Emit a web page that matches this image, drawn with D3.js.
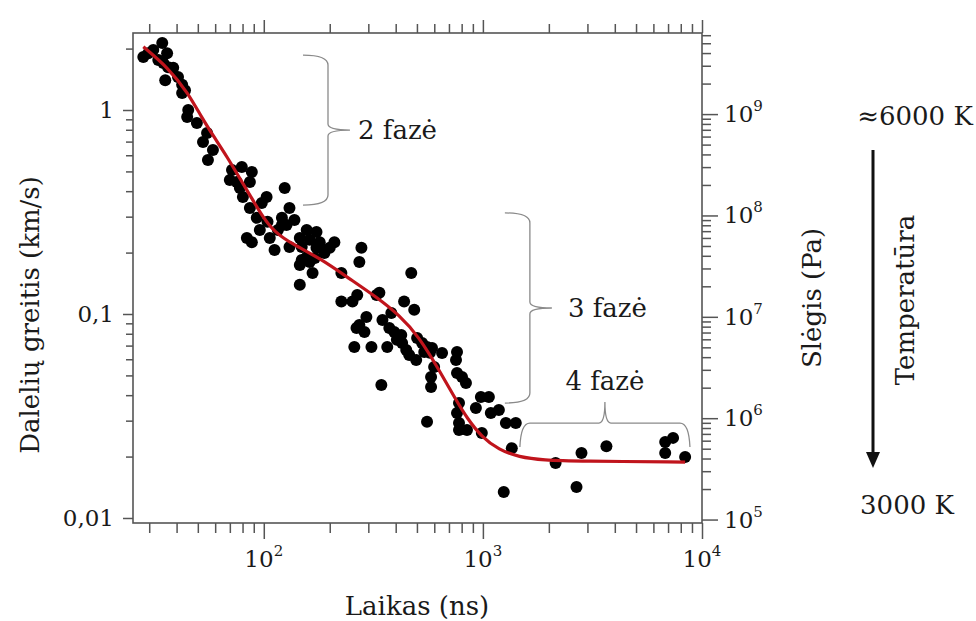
<!DOCTYPE html>
<html>
<head>
<meta charset="utf-8">
<script src="https://cdn.jsdelivr.net/npm/d3@7"></script>
<style>
  body { margin: 0; background: #fff; }
  svg { display: block; }
  text { font-family: "DejaVu Serif", serif; fill: #1a1a1a; }
</style>
</head>
<body>
<svg width="976" height="621"></svg>
<script>
// measured points: time (ns) and particle speed (km/s)
var timeNs = [28.2,29.7,31.3,34.4,33.0,36.2,34.8,36.6,38.6,35.5,
  40.6,42.4,43.7,42.4,45.2,44.7,49.5,55.1,52.8,58.6,
  55.6,71.6,79.4,88.2,70.0,86.4,77.8,80.3,124.6,103,
  97.9,86.4,131,92.9,104,121,138,127,95.9,116,
  83.7,88.2,106.5,146,157,174,162,180,210,131,
  149,112,174,200,189,157,171,279,149,146,
  162,167,273,226,146,267,254,226,327,471,
  337,437,486,382,294,348,273,265,288,374,
  394,424,501,259,310,366,428,447,528,556,
  586,540,461,496,651,762,754,599,580,580,
  762,803,837,344,778,979,1065,929,1087,1183,
  762,778,556,1273,1413,778,846,989,1355,2147,
  2818,3662,1245,2675,6792,7380,6792,8375,75.3,121,
  180,405,573];
var speed = [1.82,1.90,1.97,2.13,1.76,1.90,1.70,1.62,1.61,1.40,
  1.45,1.33,1.25,1.21,1.00,0.924,0.864,0.771,0.697,0.637,
  0.569,0.508,0.526,0.497,0.454,0.444,0.415,0.375,0.415,0.375,
  0.350,0.331,0.331,0.296,0.283,0.296,0.289,0.273,0.258,0.258,
  0.236,0.225,0.236,0.236,0.258,0.252,0.231,0.225,0.225,0.213,
  0.213,0.206,0.211,0.211,0.199,0.190,0.188,0.211,0.184,0.174,
  0.180,0.159,0.180,0.159,0.139,0.124,0.115,0.115,0.124,0.159,
  0.127,0.115,0.105,0.101,0.0967,0.0935,0.0883,0.0854,0.0816,0.0854,
  0.0816,0.0789,0.0763,0.0689,0.0689,0.0689,0.0721,0.0666,0.0721,0.0689,
  0.0681,0.0651,0.063,0.0595,0.0644,0.0651,0.0595,0.055,0.0491,0.0439,
  0.0514,0.0491,0.0459,0.0449,0.0366,0.0392,0.0392,0.0346,0.0327,0.0338,
  0.0327,0.0292,0.0296,0.0292,0.0292,0.027,0.027,0.0261,0.0220,0.0186,
  0.0208,0.0225,0.0134,0.0142,0.0236,0.0247,0.0208,0.0199,0.444,0.273,
  0.213,0.0747,0.0645];

// fitted red curve
var fitT = [28.2,36.6,45.2,52.2,59.7,68.5,76.1,86.4,98.9,112,135,180,246,327,415,512,631,754,846,989,1183,1458,1892,2730,8375];
var fitV = [2.04,1.61,1.21,0.914,0.729,0.582,0.480,0.383,0.299,0.252,0.220,0.188,0.149,0.121,0.0989,0.0771,0.0531,0.0379,0.0309,0.0249,0.0216,0.0199,0.0192,0.0190,0.0188];

// ticks
var xMajor = [100, 1000, 10000];
var xMinor = [30,40,50,60,70,80,90,200,300,400,500,600,700,800,900,2000,3000,4000,5000,6000,7000,8000,9000];
var vMajor = [0.01, 0.1, 1];
var vMinor = [0.02,0.03,0.04,0.05,0.06,0.07,0.08,0.09,0.2,0.3,0.4,0.5,0.6,0.7,0.8,0.9,2];
var pMajor = [1e5, 1e6, 1e7, 1e8, 1e9];
var pMinor = [2e5,3e5,4e5,5e5,6e5,7e5,8e5,9e5,2e6,3e6,4e6,5e6,6e6,7e6,8e6,9e6,
  2e7,3e7,4e7,5e7,6e7,7e7,8e7,9e7,2e8,3e8,4e8,5e8,6e8,7e8,8e8,9e8,2e9,3e9,4e9,5e9,6e9];

// phase annotations
var phaseLabels = ["2 fazė", "3 fazė", "4 fazė"];
var braceT = [151, 1260];          // vertical braces: time of the open side
var braceTop = [1.86, 0.313];
var braceBottom = [0.342, 0.0366];
var flatBrace = [1475, 8810, 0.0292]; // horizontal brace: t0, t1, speed

var svg = d3.select("svg");
var plotL = 133, plotR = 702, plotT = 33, plotB = 523;

var x = d3.scaleLog().domain([25.3, 1e4]).range([plotL, plotR]);
var y = d3.scaleLog().domain([0.00945, 2.385]).range([plotB, plotT]);
var yP = d3.scaleLog().domain([Math.pow(10, 4.966), Math.pow(10, 9.80)]).range([plotB, plotT]);

var comma = d3.formatLocale({decimal: ",", thousands: " ", grouping: [3], currency: ["", ""]}).format("~g");

function ticks(axis, values, size, tr) {
  svg.append("g").attr("transform", tr)
    .call(axis.tickValues(values).tickSize(size).tickSizeOuter(0).tickFormat(""))
    .call(function(g) {
      g.select(".domain").remove();
      g.selectAll("line").attr("stroke", "#555").attr("stroke-width", 1.5);
    });
}

ticks(d3.axisBottom(x), xMinor, 10, "translate(0," + plotB + ")");
ticks(d3.axisBottom(x), xMajor, 16, "translate(0," + plotB + ")");
ticks(d3.axisTop(x), xMinor, 9, "translate(0," + plotT + ")");
ticks(d3.axisTop(x), xMajor, 13, "translate(0," + plotT + ")");
ticks(d3.axisLeft(y), vMinor, 7, "translate(" + plotL + ",0)");
ticks(d3.axisLeft(y), vMajor, 10, "translate(" + plotL + ",0)");
ticks(d3.axisRight(yP), pMinor, 9, "translate(" + plotR + ",0)");
ticks(d3.axisRight(yP), pMajor, 16, "translate(" + plotR + ",0)");

svg.append("rect").attr("x", plotL).attr("y", plotT)
  .attr("width", plotR - plotL).attr("height", plotB - plotT)
  .attr("fill", "none").attr("stroke", "#555").attr("stroke-width", 1.6);

// tick labels
function powLabel(sel) {
  sel.append("tspan").text("10");
  sel.append("tspan").attr("dy", -11).attr("font-size", 15).text(function(d) { return Math.round(Math.log10(d)); });
}
svg.append("g").selectAll("text").data(xMajor).join("text")
  .attr("x", function(d) { return x(d); }).attr("y", 567)
  .attr("text-anchor", "middle").attr("font-size", 23).call(powLabel);
svg.append("g").selectAll("text").data(pMajor).join("text")
  .attr("x", plotR + 22).attr("y", function(d) { return yP(d) + 8; })
  .attr("font-size", 23).call(powLabel);
svg.append("g").selectAll("text").data(vMajor).join("text")
  .attr("x", plotL - 19).attr("y", function(d) { return y(d) + 8; })
  .attr("text-anchor", "end").attr("font-size", 23).text(comma);

// dots
svg.append("g").selectAll("circle").data(timeNs).join("circle")
  .attr("cx", function(d) { return x(d); })
  .attr("cy", function(d, i) { return y(speed[i]); })
  .attr("r", 6).attr("fill", "#000");

// fit
var line = d3.line()
  .x(function(d) { return x(d); })
  .y(function(d, i) { return y(fitV[i]); })
  .curve(d3.curveBasis);
svg.append("path").attr("d", line(fitT))
  .attr("fill", "none").attr("stroke", "#c0141c").attr("stroke-width", 3.2);

// braces
braceT.forEach(function(t, i) {
  var x0 = x(t), xs = x0 + 25, xt = x0 + 47;
  var y0 = y(braceTop[i]), y1 = y(braceBottom[i]), ym = (y0 + y1) / 2;
  var p = d3.path();
  p.moveTo(x0, y0);
  p.quadraticCurveTo(xs, y0, xs, y0 + 10);
  p.lineTo(xs, ym - 6);
  p.quadraticCurveTo(xs, ym, xt, ym);
  p.quadraticCurveTo(xs, ym, xs, ym + 6);
  p.lineTo(xs, y1 - 10);
  p.quadraticCurveTo(xs, y1, x0, y1);
  svg.append("path").attr("d", p.toString())
    .attr("fill", "none").attr("stroke", "#8a8a8a").attr("stroke-width", 1.3);
  svg.append("text").attr("x", xt + (i === 0 ? 8 : 16)).attr("y", ym + 9)
    .attr("font-size", 26).text(phaseLabels[i]);
});

(function() {
  var x0 = x(flatBrace[0]), x1 = x(flatBrace[1]), xm = (x0 + x1) / 2;
  var ys = y(flatBrace[2]), ye = ys + 24, yt = ys - 21;
  var p = d3.path();
  p.moveTo(x0, ye);
  p.quadraticCurveTo(x0 + 1, ys, x0 + 10, ys);
  p.lineTo(xm - 6, ys);
  p.quadraticCurveTo(xm, ys, xm, yt);
  p.quadraticCurveTo(xm, ys, xm + 6, ys);
  p.lineTo(x1 - 10, ys);
  p.quadraticCurveTo(x1 - 1, ys, x1, ye);
  svg.append("path").attr("d", p.toString())
    .attr("fill", "none").attr("stroke", "#8a8a8a").attr("stroke-width", 1.3);
  svg.append("text").attr("x", xm).attr("y", yt - 12)
    .attr("text-anchor", "middle").attr("font-size", 26).text(phaseLabels[2]);
})();

// titles
svg.append("text").attr("x", 417).attr("y", 615).attr("text-anchor", "middle")
  .attr("font-size", 26).text("Laikas (ns)");
svg.append("text").attr("transform", "translate(39,315) rotate(-90)")
  .attr("text-anchor", "middle").attr("font-size", 26).text("Dalelių greitis (km/s)");
svg.append("text").attr("transform", "translate(821,298) rotate(-90)")
  .attr("text-anchor", "middle").attr("font-size", 26).text("Slėgis (Pa)");
svg.append("text").attr("transform", "translate(914,300) rotate(-90)")
  .attr("text-anchor", "middle").attr("font-size", 26).text("Temperatūra");
svg.append("text").attr("x", 915).attr("y", 125).attr("text-anchor", "middle")
  .attr("font-size", 26).text("≈6000 K");
svg.append("text").attr("x", 907).attr("y", 514).attr("text-anchor", "middle")
  .attr("font-size", 26).text("3000 K");

// temperature arrow
svg.append("line").attr("x1", 873).attr("y1", 150).attr("x2", 873).attr("y2", 455)
  .attr("stroke", "#111").attr("stroke-width", 3);
svg.append("path").attr("d", d3.line()([[866, 452], [880, 452], [873, 468]]))
  .attr("fill", "#111");
</script>
</body>
</html>
